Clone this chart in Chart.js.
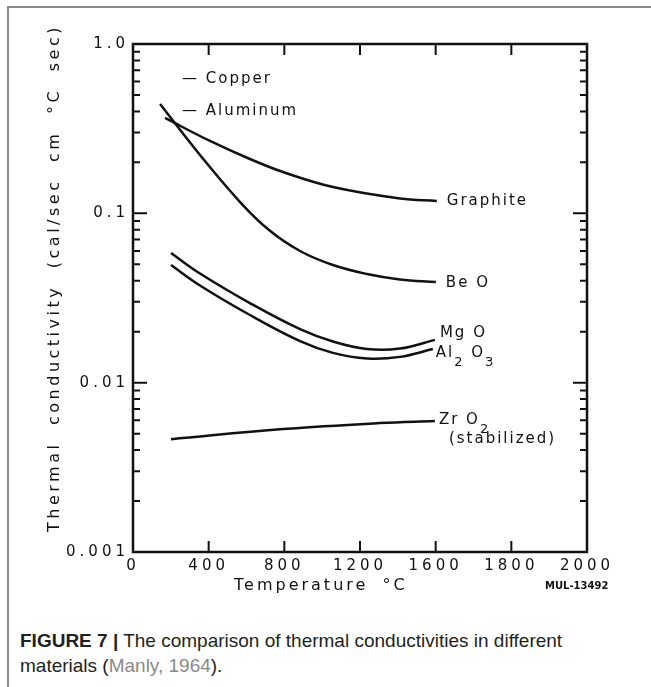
<!DOCTYPE html>
<html>
<head>
<meta charset="utf-8">
<script src="https://cdn.jsdelivr.net/npm/chart.js@4.4.1/dist/chart.umd.min.js"></script>
<style>
  body { margin: 0; background: #fff; }
  #fig { position: absolute; left: 7px; top: 6px; width: 660px; height: 700px; border-left: 2px solid #8c8c8c; border-top: 2px solid #8c8c8c; }
  #plot { position: absolute; left: 0; top: 0; }
  #caption { position: absolute; left: 20px; top: 628px; font-family: 'Liberation Sans Narrow', 'Liberation Sans', sans-serif; font-size: 19px; line-height: 25px; color: #231f20; }
  #caption .ref { color: #8a8a8a; }
</style>
</head>
<body>
<div id="fig"></div>
<canvas id="plot" width="651" height="620"></canvas>
<div id="caption"><b>FIGURE 7 |</b> The comparison of thermal conductivities in different<br>materials (<span class="ref">Manly, 1964</span>).</div>
<script>
const INK = '#111';

// axis ticks (the original axis is evenly spaced but labelled 1800, 2000 at the end)
const tempTicks = [0, 400, 800, 1200, 1600, 2000, 2400];
const tempTickLabels = ['0', '400', '800', '1200', '1600', '1800', '2000'];
const condTicks = [0.001, 0.01, 0.1, 1];
const condTickLabels = ['0.001', '0.01', '0.1', '1.0'];

// thermal conductivity, cal/(sec cm °C)
const graphiteT = [169, 407, 618, 793, 1057, 1411, 1606];
const graphiteK = [0.366, 0.2675, 0.2093, 0.1754, 0.143, 0.1224, 0.1183];

const beoT = [143, 354, 566, 719, 883, 1057, 1237, 1411, 1601];
const beoK = [0.442, 0.2211, 0.1166, 0.0797, 0.0599, 0.0495, 0.0438, 0.0407, 0.0393];

const mgoT = [201, 354, 618, 883, 1057, 1237, 1411, 1596];
const mgoK = [0.0583, 0.0441, 0.0295, 0.0207, 0.0175, 0.0158, 0.0159, 0.0179];

const al2o3T = [201, 354, 618, 883, 1057, 1237, 1411, 1585];
const al2o3K = [0.0495, 0.0375, 0.0251, 0.0176, 0.0150, 0.0139, 0.0142, 0.0158];

const zro2T = [201, 793, 1305, 1596];
const zro2K = [0.00464, 0.00532, 0.00577, 0.00593];

const series = [
  { name: 'Graphite', t: graphiteT, k: graphiteK, label: [['Graphite', 0]], dx: 10, dy: 0 },
  { name: 'BeO', t: beoT, k: beoK, label: [['Be O', 0]], dx: 10, dy: 1 },
  { name: 'MgO', t: mgoT, k: mgoK, label: [['Mg O', 0]], dx: 5, dy: -7 },
  { name: 'Al2O3', t: al2o3T, k: al2o3K, label: [['Al', 0], ['2', 1], [' O', 0], ['3', 1]], dx: 3, dy: 4 },
  { name: 'ZrO2', t: zro2T, k: zro2K, label: [['Zr O', 0], ['2', 1]], dx: 4, dy: -1, note: '(stabilized)' }
];

const markers = [
  { text: '— Copper', t: 259, k: 0.62 },
  { text: '— Aluminum', t: 259, k: 0.40 }
];

function drawParts(ctx, parts, x, y) {
  parts.forEach(([txt, sub]) => {
    ctx.font = sub ? '13px "DejaVu Sans"' : '15px "DejaVu Sans"';
    ctx.fillText(txt, x, sub ? y + 10 : y);
    x += ctx.measureText(txt).width;
  });
}

const inkPlugin = {
  id: 'ink',
  beforeDraw(chart) {
    chart.ctx.letterSpacing = '4px';
  },
  afterDraw(chart) {
    const { ctx, chartArea: a, scales: { x, y } } = chart;
    ctx.save();
    ctx.strokeStyle = INK;
    ctx.lineWidth = 2.5;
    ctx.strokeRect(a.left, a.top, a.right - a.left, a.bottom - a.top);

    // inward tick marks
    ctx.lineWidth = 2;
    ctx.beginPath();
    tempTicks.slice(1, -1).forEach(v => {
      const px = x.getPixelForValue(v);
      ctx.moveTo(px, a.top); ctx.lineTo(px, a.top + 11);
      ctx.moveTo(px, a.bottom); ctx.lineTo(px, a.bottom - 11);
    });
    for (let d = -3; d < 0; d++) {
      for (let m = 1; m < 10; m++) {
        if (m === 1 && d === -3) continue;
        const py = y.getPixelForValue(m * Math.pow(10, d));
        const len = m === 1 ? 14 : 7;
        ctx.moveTo(a.left, py); ctx.lineTo(a.left + len, py);
        ctx.moveTo(a.right, py); ctx.lineTo(a.right - len, py);
      }
    }
    ctx.stroke();

    ctx.fillStyle = INK;
    ctx.textBaseline = 'middle';
    ctx.textAlign = 'left';
    ctx.letterSpacing = '2px';
    ctx.wordSpacing = '0px';

    // curve names at the end of each line
    chart.data.datasets.forEach((ds, i) => {
      const pts = chart.getDatasetMeta(i).data;
      const end = pts[pts.length - 1];
      const s = series[i];
      drawParts(ctx, s.label, end.x + s.dx, end.y + s.dy);
      if (s.note) {
        ctx.font = '15px "DejaVu Sans"';
        ctx.fillText(s.note, end.x + s.dx + 10, end.y + s.dy + 19);
      }
    });

    ctx.font = '15px "DejaVu Sans"';
    markers.forEach(m => {
      ctx.fillText(m.text, x.getPixelForValue(m.t), y.getPixelForValue(m.k));
    });

    // axis titles
    ctx.font = '16px "DejaVu Sans"';
    ctx.letterSpacing = '3px';
    ctx.wordSpacing = '6px';
    ctx.fillText('Temperature °C', a.left + 101, 586);

    ctx.save();
    ctx.translate(55, 278);
    ctx.rotate(-Math.PI / 2);
    ctx.textAlign = 'center';
    ctx.letterSpacing = '3.5px';
    ctx.wordSpacing = '8px';
    ctx.fillText('Thermal conductivity (cal/sec cm °C sec)', 0, 0);
    ctx.restore();

    ctx.font = 'bold 10px "DejaVu Sans"';
    ctx.letterSpacing = '0px';
    ctx.wordSpacing = '0px';
    ctx.fillText('MUL-13492', 545, 586);
    ctx.restore();
  }
};

Chart.defaults.font.family = '"DejaVu Sans"';
Chart.defaults.color = INK;

const datasets = series.map(s => ({
  label: s.name,
  data: s.t.map((t, i) => ({ x: t, y: s.k[i] })),
  borderColor: INK,
  borderWidth: 2.5,
  pointRadius: 0,
  tension: 0.4,
  fill: false
}));

new Chart(document.getElementById('plot'), {
  type: 'line',
  data: { datasets },
  options: {
    responsive: false,
    animation: false,
    layout: { padding: { left: 0, top: 44, right: 64, bottom: 0 } },
    plugins: { legend: { display: false }, tooltip: { enabled: false } },
    scales: {
      x: {
        type: 'linear',
        min: 0,
        max: 2400,
        afterBuildTicks: s => { s.ticks = tempTicks.map(v => ({ value: v })); },
        afterFit: s => { s.height = 68; },
        grid: { display: false, drawTicks: false },
        border: { display: false },
        ticks: { font: { size: 15 }, padding: 5, maxRotation: 0, autoSkip: false,
          callback: (v, i) => tempTickLabels[i] }
      },
      y: {
        type: 'logarithmic',
        min: 0.001,
        max: 1,
        afterBuildTicks: s => { s.ticks = condTicks.map(v => ({ value: v })); },
        afterFit: s => { s.width = 133; },
        grid: { display: false, drawTicks: false },
        border: { display: false },
        ticks: { font: { size: 15 }, padding: 4, autoSkip: false,
          callback: (v, i) => condTickLabels[i] }
      }
    }
  },
  plugins: [inkPlugin]
});
</script>
</body>
</html>
